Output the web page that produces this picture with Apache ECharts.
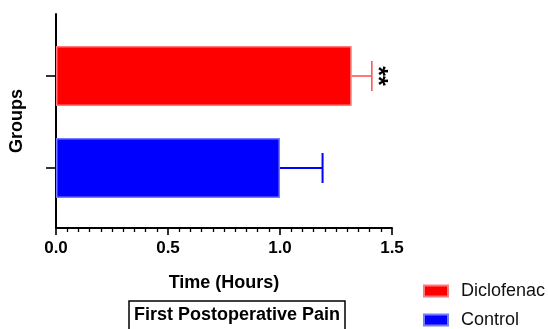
<!DOCTYPE html>
<html>
<head>
<meta charset="utf-8">
<script src="https://cdn.jsdelivr.net/npm/echarts@6/dist/echarts.min.js"></script>
<style>
  html, body { margin: 0; padding: 0; background: #fff; }
  #chart { width: 548px; height: 329px; }
</style>
</head>
<body>
<div id="chart"></div>
<script>
// Time to first postoperative pain, mean with SD (hours)
const groups = ['Control', 'Diclofenac'];
const meanHours = [1.00, 1.32];
const sdHours = [0.19, 0.09];
const significance = ['', '**'];
const xTicks = [0, 0.5, 1.0, 1.5];
const legendOrder = ['Diclofenac', 'Control'];

const FONT = 'Liberation Sans';
const barColors = ['#0000ff', '#ff0000'];
const barEdges = ['#7a7aff', '#ff7a7a'];
const errorColors = ['#0000ff', '#ff5757'];
const errorWidths = [2, 1.6];

const chart = echarts.init(document.getElementById('chart'), null, { renderer: 'canvas' });

// one bar series per group so each gets its own legend entry
const barSeries = groups.map((name, gi) => ({
  name: name,
  type: 'bar',
  xAxisIndex: 0,
  yAxisIndex: 0,
  barWidth: 60,
  barGap: '-100%',
  itemStyle: { color: barColors[gi], borderColor: barEdges[gi], borderWidth: 1.5 },
  data: groups.map((g, i) => (i === gi ? meanHours[i] : '-')),
  z: 2
}));

const errorSeries = {
  type: 'custom',
  xAxisIndex: 0,
  yAxisIndex: 0,
  encode: { x: 0, y: 1 },
  data: groups.map((g, i) => [meanHours[i], i, sdHours[i]]),
  renderItem: function (params, api) {
    const m = api.value(0);
    const cat = api.value(1);
    const sd = api.value(2);
    const start = api.coord([m, cat]);
    const end = api.coord([m + sd, cat]);
    const color = errorColors[cat];
    const w = errorWidths[cat];
    const cap = 30;
    const children = [
      { type: 'line', shape: { x1: start[0], y1: start[1], x2: end[0], y2: end[1] },
        style: { stroke: color, lineWidth: w } },
      { type: 'line', shape: { x1: end[0], y1: end[1] - cap / 2, x2: end[0], y2: end[1] + cap / 2 },
        style: { stroke: color, lineWidth: w } }
    ];
    const sig = significance[params.dataIndex];
    if (sig) {
      children.push({
        type: 'text',
        x: end[0] + 5,
        y: end[1],
        rotation: -Math.PI / 2,
        style: {
          text: sig, fill: '#000', font: 'bold 25px "' + FONT + '"',
          align: 'center', verticalAlign: 'middle'
        }
      });
    }
    return { type: 'group', children: children };
  },
  z: 3
};

const option = {
  animation: false,
  backgroundColor: '#fff',
  textStyle: { fontFamily: FONT },
  title: {
    text: 'First Postoperative Pain',
    left: 129,
    top: 301,
    padding: [5, 5, 20, 5],
    borderColor: '#000',
    borderWidth: 1.5,
    textStyle: { fontFamily: FONT, fontWeight: 'bold', fontSize: 18, color: '#000' }
  },
  legend: {
    orient: 'vertical',
    left: 423,
    top: 282,
    height: 80,
    padding: 0,
    data: legendOrder,
    itemWidth: 24,
    itemHeight: 11,
    itemGap: 11,
    icon: 'rect',
    textStyle: { fontFamily: FONT, fontSize: 18, color: '#111', lineHeight: 18, padding: [0, 0, 0, 8] }
  },
  grid: [
    { left: 56, top: 30, width: 336, height: 184 },
    { left: 56, top: 14, width: 336, height: 214 }
  ],
  xAxis: [
    {
      gridIndex: 0,
      type: 'value',
      min: xTicks[0],
      max: xTicks[xTicks.length - 1],
      interval: xTicks[1] - xTicks[0],
      offset: 14,
      name: 'Time (Hours)',
      nameLocation: 'middle',
      nameGap: 46,
      nameTextStyle: { fontFamily: FONT, fontWeight: 'bold', fontSize: 18, color: '#000' },
      axisLine: { show: true, lineStyle: { color: '#000', width: 2 } },
      axisTick: { show: true, length: 7, lineStyle: { color: '#000', width: 1.6 } },
      minorTick: { show: true, splitNumber: 10, length: 4, lineStyle: { color: '#000', width: 1.3 } },
      splitLine: { show: false },
      minorSplitLine: { show: false },
      axisLabel: {
        margin: 12,
        fontFamily: FONT, fontWeight: 'bold', fontSize: 17, color: '#000',
        formatter: v => v.toFixed(1)
      }
    },
    { gridIndex: 1, type: 'value', show: false, min: 0, max: 1 }
  ],
  yAxis: [
    {
      gridIndex: 0,
      type: 'category',
      data: groups,
      axisLine: { show: false },
      axisTick: { show: true, alignWithLabel: true, length: 10, lineStyle: { color: '#000', width: 1.6 } },
      axisLabel: { show: false },
      splitLine: { show: false }
    },
    {
      gridIndex: 1,
      type: 'value',
      min: 0,
      max: 1,
      name: 'Groups',
      nameLocation: 'middle',
      nameRotate: 90,
      nameGap: 30,
      nameTextStyle: { fontFamily: FONT, fontWeight: 'bold', fontSize: 18, color: '#000' },
      axisLine: { show: true, lineStyle: { color: '#000', width: 2 } },
      axisTick: { show: false },
      axisLabel: { show: false },
      splitLine: { show: false }
    }
  ],
  series: barSeries.concat([errorSeries])
};

chart.setOption(option);
</script>
</body>
</html>
